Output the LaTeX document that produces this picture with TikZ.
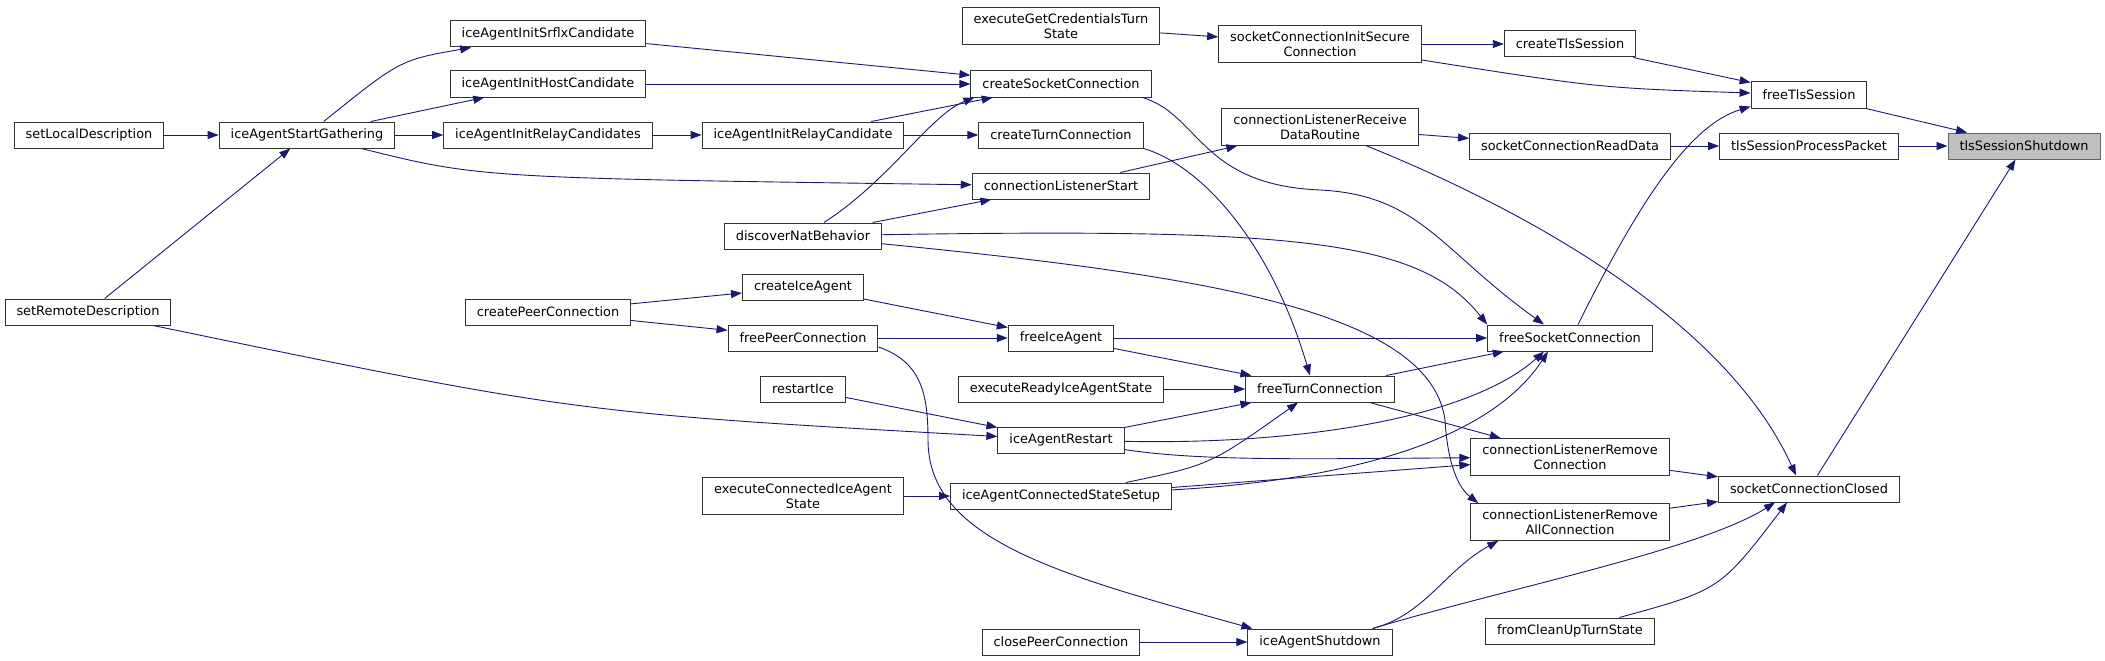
\documentclass[tikz,border=0pt]{standalone}
\usepackage{fontspec}
\setmainfont{DejaVu Sans}
\usepackage{xcolor}
\definecolor{edgeBlue}{HTML}{191970}
\definecolor{hlGray}{HTML}{BFBFBF}
\usepackage{tikz}
\usetikzlibrary{arrows.meta}

\begin{document}
\begin{tikzpicture}[x=1pt, y=-1pt,
    every node/.style={font=\fontsize{12.9}{14.7}\selectfont},
    fn/.style={draw=black!80, fill=white, line width=1pt, minimum height=26pt,
               inner xsep=11.5pt, inner ysep=6pt, align=center},
    hl/.style={fn, fill=hlGray, draw=black!60},
    arr/.style={-{Triangle[length=11pt, width=8pt]}, draw=edgeBlue, line width=0.9pt}]
  \useasboundingbox (0,0) rectangle (2105,661);
  \node[fn] (setLocal)       at (89,135)   {setLocalDescription};
  \node[fn] (setRemote)      at (88,312)   {setRemoteDescription};
  \node[fn] (startGather)    at (307,135)  {iceAgentStartGathering};
  \node[fn] (initSrflx)      at (548,34)   {iceAgentInitSrflxCandidate};
  \node[fn] (initHost)       at (548,84)   {iceAgentInitHostCandidate};
  \node[fn] (initRelays)     at (548,135)  {iceAgentInitRelayCandidates};
  \node[fn] (createPeer)     at (548,312)  {createPeerConnection};
  \node[fn] (initRelay)      at (803,135)  {iceAgentInitRelayCandidate};
  \node[fn] (discoverNat)    at (803,236)  {discoverNatBehavior};
  \node[fn] (createIce)      at (803,287)  {createIceAgent};
  \node[fn] (freePeer)       at (803,338)  {freePeerConnection};
  \node[fn] (restartIce)     at (803,389)  {restartIce};
  \node[fn] (connectedState) at (803,496)  {executeConnectedIceAgent\\State};
  \node[fn] (getCreds)       at (1061,26)  {executeGetCredentialsTurn\\State};
  \node[fn] (createSocket)   at (1061,84)  {createSocketConnection};
  \node[fn] (createTurn)     at (1061,135) {createTurnConnection};
  \node[fn] (listenStart)    at (1061,186) {connectionListenerStart};
  \node[fn] (freeIce)        at (1061,338) {freeIceAgent};
  \node[fn] (readyState)     at (1061,389) {executeReadyIceAgentState};
  \node[fn] (iceRestart)     at (1061,440) {iceAgentRestart};
  \node[fn] (connectedSetup) at (1061,496) {iceAgentConnectedStateSetup};
  \node[fn] (closePeer)      at (1061,642) {closePeerConnection};
  \node[fn] (initSecure)     at (1320,44)  {socketConnectionInitSecure\\Connection};
  \node[fn] (receiveData)    at (1320,127) {connectionListenerReceive\\DataRoutine};
  \node[fn] (freeTurn)       at (1320,389) {freeTurnConnection};
  \node[fn] (iceShutdown)    at (1320,642) {iceAgentShutdown};
  \node[fn] (createTls)      at (1570,44)  {createTlsSession};
  \node[fn] (readData)       at (1570,146) {socketConnectionReadData};
  \node[fn] (freeSocket)     at (1570,338) {freeSocketConnection};
  \node[fn] (removeConn)     at (1570,457) {connectionListenerRemove\\Connection};
  \node[fn] (removeAll)      at (1570,522) {connectionListenerRemove\\AllConnection};
  \node[fn] (cleanUpTurn)    at (1570,631) {fromCleanUpTurnState};
  \node[fn] (freeTls)        at (1809,95)  {freeTlsSession};
  \node[fn] (processPacket)  at (1809,146) {tlsSessionProcessPacket};
  \node[fn] (sockClosed)     at (1809,489) {socketConnectionClosed};
  \node[hl] (tlsShutdown)    at (2024,146) {tlsSessionShutdown};

  \draw[arr] (setLocal) -- (startGather);
  \draw[arr] (setRemote) -- (startGather);
  \draw[arr] (setRemote) .. controls (576,413) .. (iceRestart);
  \draw[arr] (startGather) .. controls (400,60) .. (initSrflx);
  \draw[arr] (startGather) -- (initHost);
  \draw[arr] (startGather) -- (initRelays);
  \draw[arr] (startGather) .. controls (480,178) .. (listenStart);
  \draw[arr] (initSrflx) -- (createSocket);
  \draw[arr] (initHost) -- (createSocket);
  \draw[arr] (initRelays) -- (initRelay);
  \draw[arr] (initRelay) -- (createSocket);
  \draw[arr] (initRelay) -- (createTurn);
  \draw[arr] (discoverNat) .. controls (890,180) and (930,115) .. ([xshift=4pt]createSocket.south west);
  \draw[arr] (discoverNat) -- (listenStart);
  \draw[arr] (discoverNat) .. controls (1300,228) and (1420,240) .. (freeSocket.north west);
  \draw[arr] (discoverNat) .. controls (1200,275) and (1430,310) .. (1445,420)
             .. controls (1447,455) and (1455,485) .. ([xshift=8pt]removeAll.north west);
  \draw[arr] (createPeer) -- (createIce);
  \draw[arr] (createPeer) -- (freePeer);
  \draw[arr] (createIce) -- (freeIce);
  \draw[arr] (freePeer) -- (freeIce);
  \draw[arr] ([yshift=-9pt]freePeer.east) .. controls (922,362) and (928,395) .. (928,440)
             .. controls (928,540) and (1060,575) .. ([xshift=5pt]iceShutdown.north west);
  \draw[arr] (freeIce) -- (freeSocket);
  \draw[arr] (freeIce) -- (freeTurn);
  \draw[arr] (readyState) -- (freeTurn);
  \draw[arr] (restartIce) -- (iceRestart);
  \draw[arr] (iceRestart) -- (freeTurn);
  \draw[arr] (iceRestart) .. controls (1300,445) and (1470,418) .. ([xshift=-26pt]freeSocket.south);
  \draw[arr] (iceRestart) .. controls (1200,461) and (1300,459) .. (removeConn);
  \draw[arr] (connectedState) -- (connectedSetup);
  \draw[arr] (connectedSetup) .. controls (1210,465) .. ([xshift=-22pt]freeTurn.south);
  \draw[arr] (connectedSetup) -- (removeConn);
  \draw[arr] (connectedSetup) .. controls (1350,480) and (1490,440) .. ([xshift=-22pt]freeSocket.south);
  \draw[arr] (closePeer) -- (iceShutdown);
  \draw[arr] ([xshift=-20pt]iceShutdown.north east) .. controls (1425,615) and (1445,570) .. ([xshift=28pt]removeAll.south west);
  \draw[arr] ([xshift=-20pt]iceShutdown.north east) .. controls (1500,590) and (1700,550) .. ([xshift=-34pt]sockClosed.south);
  \draw[arr] (createTurn.south east) .. controls (1200,165) and (1270,240) .. ([xshift=-10pt]freeTurn.north);
  \draw[arr] ([xshift=-9pt]createSocket.south east) .. controls (1200,115) and (1200,185) .. (1320,190)
             .. controls (1420,195) and (1440,250) .. ([xshift=-26pt]freeSocket.north);
  \draw[arr] (listenStart) -- (receiveData);
  \draw[arr] (getCreds) -- (initSecure);
  \draw[arr] (initSecure) -- (createTls);
  \draw[arr] (initSecure) .. controls (1600,88) .. (freeTls);
  \draw[arr] (createTls) -- (freeTls);
  \draw[arr] (receiveData) -- (readData);
  \draw[arr] (receiveData) .. controls (1550,220) and (1730,330) .. ([xshift=-13pt]sockClosed.north);
  \draw[arr] (readData) -- (processPacket);
  \draw[arr] (processPacket) -- (tlsShutdown);
  \draw[arr] (freeTls) -- (tlsShutdown);
  \draw[arr] ([xshift=8pt]freeSocket.north) .. controls (1640,200) and (1690,125) .. ([yshift=2pt]freeTls.south west);
  \draw[arr] (freeTurn) -- (freeSocket);
  \draw[arr] (freeTurn) -- (removeConn);
  \draw[arr] (removeConn) -- (sockClosed);
  \draw[arr] (removeAll) -- (sockClosed);
  \draw[arr] (cleanUpTurn) .. controls (1720,590) .. ([xshift=-22pt]sockClosed.south);
  \draw[arr] (sockClosed) -- (tlsShutdown);
\end{tikzpicture}
\end{document}
